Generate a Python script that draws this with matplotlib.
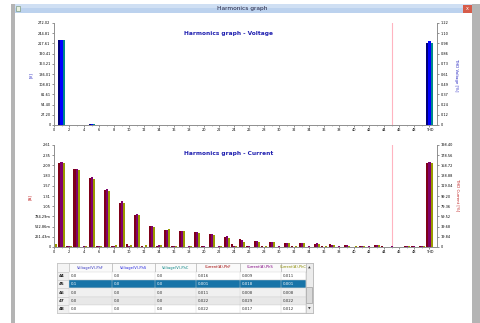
import numpy as np
import matplotlib
matplotlib.use("Agg")
import matplotlib.pyplot as plt
from matplotlib.patches import Rectangle

W, H = 481, 323

# ---- data -------------------------------------------------------------
orders = list(range(50))          # harmonic order 0..49, THD drawn at slot 50
thd_slot = 50
x_labels = [str(i) for i in range(0, 50, 2)] + ["THD"]

volt_phf = [0.0, 226.0, 0.2, 0.3, 0.1, 1.6, 0.1, 1.3, 0.1, 0.3, 0.1, 0.3, 0.1, 0.2, 0.1, 0.2, 0.0, 0.2, 0.0, 0.1,
            0.0, 0.1, 0.0, 0.1, 0.0, 0.1, 0.0, 0.1, 0.0, 0.1, 0.0, 0.1, 0.0, 0.0, 0.0, 0.1, 0.0, 0.0, 0.0, 0.0,
            0.0, 0.0, 0.0, 0.0, 0.0, 0.1, 0.0, 0.0, 0.0, 0.0]
volt_phs = [0.0, 226.5, 0.2, 0.3, 0.1, 1.7, 0.1, 1.2, 0.1, 0.3, 0.1, 0.3, 0.1, 0.2, 0.1, 0.2, 0.0, 0.2, 0.0, 0.1,
            0.0, 0.1, 0.0, 0.1, 0.0, 0.1, 0.0, 0.1, 0.0, 0.1, 0.0, 0.1, 0.0, 0.0, 0.0, 0.1, 0.0, 0.0, 0.0, 0.0,
            0.0, 0.0, 0.0, 0.0, 0.0, 0.0, 0.0, 0.0, 0.0, 0.0]
volt_phc = [0.0, 225.8, 0.2, 0.3, 0.1, 1.5, 0.1, 1.3, 0.1, 0.3, 0.1, 0.3, 0.1, 0.2, 0.1, 0.2, 0.0, 0.2, 0.0, 0.1,
            0.0, 0.1, 0.0, 0.1, 0.0, 0.1, 0.0, 0.1, 0.0, 0.1, 0.0, 0.1, 0.0, 0.0, 0.0, 0.1, 0.0, 0.0, 0.0, 0.0,
            0.0, 0.0, 0.0, 0.0, 0.0, 0.0, 0.0, 0.0, 0.0, 0.0]
volt_thd = [0.98, 1.01, 0.98]

cur_phf = [0.02, 2.16, 0.02, 1.99, 0.01, 1.77, 0.03, 1.45, 0.02, 1.14, 0.07, 0.82, 0.03, 0.54, 0.03, 0.44, 0.02, 0.42,
           0.01, 0.38, 0.02, 0.33, 0.01, 0.26, 0.07, 0.20, 0.02, 0.15, 0.02, 0.13, 0.01, 0.11, 0.02, 0.11, 0.01, 0.08,
           0.02, 0.07, 0.01, 0.04, 0.01, 0.03, 0.01, 0.06, 0.016, 0.001, 0.011, 0.022, 0.022, 0.02]
cur_phs = [0.03, 2.19, 0.03, 2.01, 0.02, 1.79, 0.02, 1.48, 0.03, 1.17, 0.03, 0.84, 0.01, 0.53, 0.04, 0.44, 0.02, 0.42,
           0.02, 0.38, 0.02, 0.33, 0.02, 0.27, 0.03, 0.17, 0.02, 0.15, 0.01, 0.14, 0.02, 0.11, 0.01, 0.10, 0.02, 0.09,
           0.01, 0.06, 0.02, 0.04, 0.01, 0.03, 0.02, 0.05, 0.009, 0.018, 0.008, 0.029, 0.017, 0.02]
cur_phc = [0.08, 2.15, 0.02, 1.98, 0.02, 1.75, 0.03, 1.44, 0.04, 1.14, 0.05, 0.82, 0.06, 0.52, 0.05, 0.47, 0.03, 0.40,
           0.02, 0.36, 0.01, 0.32, 0.02, 0.24, 0.03, 0.14, 0.01, 0.14, 0.02, 0.12, 0.01, 0.10, 0.02, 0.11, 0.01, 0.07,
           0.02, 0.05, 0.01, 0.03, 0.02, 0.03, 0.01, 0.05, 0.011, 0.001, 0.008, 0.022, 0.012, 0.02]
cur_thd = [164.0, 166.0, 164.0]

cursor_order = 45

volt_left_ticks = ["0", "27.20", "54.40", "81.61", "108.81", "136.01", "163.21", "190.41", "217.61", "244.81", "272.02"]
volt_right_ticks = ["0", "0.12", "0.24", "0.37", "0.49", "0.61", "0.73", "0.86", "0.98", "1.10", "1.22"]
cur_left_ticks = ["0", "261.43m", "522.86m", "784.29m", "1.05", "1.31", "1.57", "1.83", "2.09", "2.35", "2.61"]
cur_right_ticks = ["0", "19.84", "39.68", "59.52", "79.36", "99.20", "119.04", "138.88", "158.72", "178.56", "198.40"]
volt_left_max, volt_right_max = 272.02, 1.22
cur_left_max, cur_right_max = 2.614, 198.40

table_cols = ["Voltage(V)-PhF", "Voltage(V)-PhS", "Voltage(V)-PhC",
              "Current(A)-PhF", "Current(A)-PhS", "Current(A)-PhC"]
table_rows = ["44", "45", "46", "47", "48"]
table_vals = [["0.0", "0.0", "0.0", "0.016", "0.009", "0.011"],
              ["0.1", "0.0", "0.0", "0.001", "0.018", "0.001"],
              ["0.0", "0.0", "0.0", "0.011", "0.008", "0.008"],
              ["0.0", "0.0", "0.0", "0.022", "0.029", "0.022"],
              ["0.0", "0.0", "0.0", "0.022", "0.017", "0.012"]]

# ---- styling ----------------------------------------------------------
plt.rcParams["font.family"] = ["DejaVu Sans"]
volt_colors = ["#00007a", "#0000ff", "#008a8a"]
cur_colors = ["#800018", "#80006a", "#9a9a00"]
col_text_colors = ["#3030c0", "#2020e0", "#008080", "#a00000", "#800080", "#8a8a00"]
AX_GREY = "#909090"


def rect(x0, y0, x1, y1):
    return [x0 / W, 1 - y1 / H, (x1 - x0) / W, (y1 - y0) / H]


fig = plt.figure(figsize=(W / 100, H / 100), dpi=100)

# window chrome
bg = fig.add_axes([0, 0, 1, 1])
bg.set_xlim(0, W)
bg.set_ylim(H, 0)
bg.axis("off")
bg.add_patch(Rectangle((11, 4), 4, H, color="#b4b4b4", lw=0))
bg.add_patch(Rectangle((472, 4), 9, H, color="#b4b4b4", lw=0))
bg.add_patch(Rectangle((15, 4), 457, 9, color="#bcd2ee", lw=0))
bg.add_patch(Rectangle((15, 4), 457, 4, color="#cfdff3", lw=0))
bg.add_patch(Rectangle((16, 6), 4, 5, facecolor="#e8f0e0", edgecolor="#6a8a6a", lw=0.4))
bg.add_patch(Rectangle((463, 5), 9, 8, color="#d65c4a", lw=0))
bg.text(467.5, 9, "x", color="white", fontsize=3.5, ha="center", va="center")
bg.text(242, 8.5, "Harmonics graph", fontsize=4.2, ha="center", va="center", color="#202040")


def style_axes(ax, ax2, left_max, left_lbls, right_max, right_lbls):
    ax.set_xlim(0, 51)
    ax.set_ylim(0, left_max)
    ax2.set_ylim(0, right_max)
    ax.set_xticks(range(1, 50, 2), minor=True)
    ax.set_xticks(list(range(0, 50, 2)) + [thd_slot])
    ax.set_xticklabels(x_labels)
    ax.set_yticks(np.linspace(0, left_max, 11))
    ax.set_yticklabels(left_lbls)
    ax2.set_yticks(np.linspace(0, right_max, 11))
    ax2.set_yticklabels(right_lbls)
    for a in (ax, ax2):
        a.spines["top"].set_visible(False)
        for s in ("left", "right", "bottom"):
            a.spines[s].set_color(AX_GREY)
            a.spines[s].set_linewidth(0.6)
        a.tick_params(labelsize=2.5, length=1.5, width=0.4, color="#404040", pad=1)
    ax.tick_params(which="minor", length=1.0, width=0.4, color="#808080")
    ax.axvline(cursor_order, color="#ffb4c0", lw=0.8, zorder=0)


# ---- voltage ----------------------------------------------------------
axv = fig.add_axes(rect(54, 23, 437, 125))
axv2 = axv.twinx()
w = 0.27
x = np.array(orders)
for k, (vals, c) in enumerate(zip([volt_phf, volt_phs, volt_phc], volt_colors)):
    axv.bar(x + (k - 1) * w, vals, width=w, color=c, lw=0)
    axv2.bar(thd_slot + (k - 1) * w, volt_thd[k], width=w, color=c, lw=0)
style_axes(axv, axv2, volt_left_max, volt_left_ticks, volt_right_max, volt_right_ticks)
axv.text(0.455, 0.9, "Harmonics graph - Voltage", transform=axv.transAxes, fontsize=4.2,
         color="#2020b0", ha="center", va="center", fontweight="bold")
fig.text(31 / W, 1 - 75 / H, "[V]", fontsize=2.8, color="#2020c0", rotation=90, ha="center", va="center")
fig.text(456 / W, 1 - 75 / H, "THD Voltage [%]", fontsize=2.8, color="#2020c0", rotation=270,
         ha="center", va="center")

# ---- current ----------------------------------------------------------
axc = fig.add_axes(rect(54, 145, 437, 247))
axc2 = axc.twinx()
for k, (vals, c) in enumerate(zip([cur_phf, cur_phs, cur_phc], cur_colors)):
    axc.bar(x + (k - 1) * w, vals, width=w, color=c, lw=0)
    axc2.bar(thd_slot + (k - 1) * w, cur_thd[k], width=w, color=c, lw=0)
style_axes(axc, axc2, cur_left_max, cur_left_ticks, cur_right_max, cur_right_ticks)
axc.text(0.455, 0.92, "Harmonics graph - Current", transform=axc.transAxes, fontsize=4.2,
         color="#2020b0", ha="center", va="center", fontweight="bold")
fig.text(30 / W, 1 - 197 / H, "[A]", fontsize=2.8, color="#c02020", rotation=90, ha="center", va="center")
fig.text(458 / W, 1 - 195 / H, "THD Current [%]", fontsize=2.8, color="#c02020", rotation=270,
         ha="center", va="center")

# ---- table ------------------------------------------------------------
tb = fig.add_axes([0, 0, 1, 1], zorder=3)
tb.set_xlim(0, W)
tb.set_ylim(H, 0)
tb.axis("off")
col_x = [57, 69, 112, 155, 196, 240, 281, 306, 313]
row_y = [263, 272, 280.2, 288.4, 296.6, 304.8, 313]
row_bg = ["white", "#1874a8", "#f0f0f0", "#e8e8e8", "white"]
tb.add_patch(Rectangle((col_x[0], row_y[0]), col_x[-1] - col_x[0], row_y[-1] - row_y[0],
                       facecolor="white", edgecolor="#a0a0a0", lw=0.5))
tb.add_patch(Rectangle((col_x[0], row_y[0]), col_x[-2] - col_x[0], row_y[1] - row_y[0],
                       facecolor="#f4f4f4", edgecolor="#c0c0c0", lw=0.4))
for j, name in enumerate(table_cols):
    tb.add_patch(Rectangle((col_x[j + 1], row_y[0]), col_x[j + 2] - col_x[j + 1], row_y[1] - row_y[0],
                           facecolor="#fafafa", edgecolor="#b0b0b0", lw=0.4))
    tb.text((col_x[j + 1] + col_x[j + 2]) / 2, (row_y[0] + row_y[1]) / 2, name, fontsize=2.6,
            color=col_text_colors[j], ha="center", va="center")
for i, lbl in enumerate(table_rows):
    y0, y1 = row_y[i + 1], row_y[i + 2]
    tb.add_patch(Rectangle((col_x[0], y0), col_x[1] - col_x[0], y1 - y0,
                           facecolor="#f0f0f0", edgecolor="#c8c8c8", lw=0.4))
    tb.text(col_x[0] + 2, (y0 + y1) / 2, lbl, fontsize=3, ha="left", va="center",
            color="#202020", fontweight="bold")
    tb.add_patch(Rectangle((col_x[1], y0), col_x[-2] - col_x[1], y1 - y0,
                           facecolor=row_bg[i], edgecolor="#d0d0d0", lw=0.3))
    for j, v in enumerate(table_vals[i]):
        tb.plot([col_x[j + 2], col_x[j + 2]], [y0, y1], color="#d0d0d0", lw=0.3)
        tb.text(col_x[j + 1] + 2, (y0 + y1) / 2, v, fontsize=2.8, ha="left", va="center",
                color="white" if i == 1 else "#303030")
# scrollbar
tb.add_patch(Rectangle((col_x[-2], row_y[0]), col_x[-1] - col_x[-2], row_y[-1] - row_y[0],
                       facecolor="#ececec", edgecolor="#b0b0b0", lw=0.4))
tb.add_patch(Rectangle((col_x[-2] + 0.5, 287), 6, 16, facecolor="#dadada", edgecolor="#909090", lw=0.4))
tb.text(309.5, 267.5, "\u25b2", fontsize=2.5, ha="center", va="center", color="#404040")
tb.text(309.5, 309, "\u25bc", fontsize=2.5, ha="center", va="center", color="#404040")

fig.savefig("out.png", dpi=100)
